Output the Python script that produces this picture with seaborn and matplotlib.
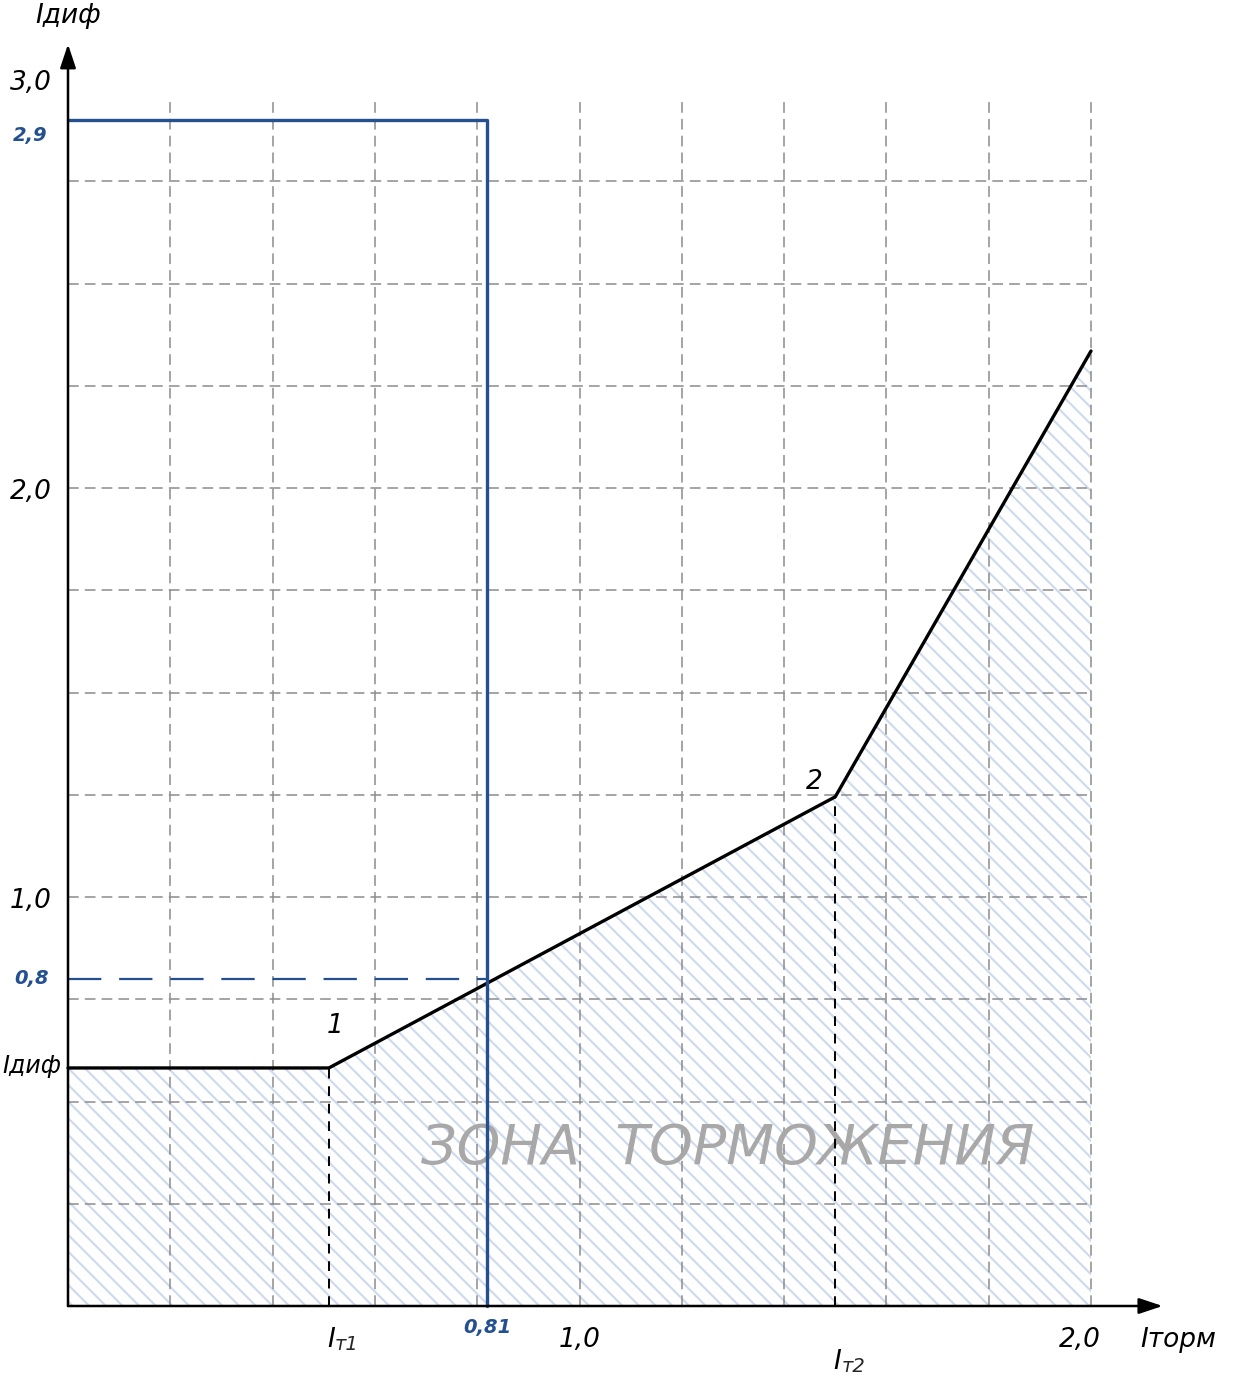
import matplotlib
matplotlib.use("Agg")
import matplotlib.pyplot as plt
import seaborn as sns
import numpy as np
import pandas as pd

# ---- data ----
char_x = [0.0, 0.51, 1.50, 2.00]
char_y = [0.582, 0.582, 1.245, 2.335]
break_labels = ["1", "2"]
set_x = 0.82          # blue vertical (labelled 0,81)
set_y = 2.9           # blue horizontal
cross_y = 0.8         # blue dashed level
x_grid = [0.2, 0.4, 0.6, 0.8, 1.0, 1.2, 1.4, 1.6, 1.8, 2.0]
y_grid = [0.25, 0.5, 0.75, 1.0, 1.25, 1.5, 1.75, 2.0, 2.25, 2.5, 2.75]
y_ticks = [3.0, 2.0, 1.0]
y_tick_labels = ["3,0", "2,0", "1,0"]
x_ticks = [1.0, 2.0]
x_tick_labels = ["1,0", "2,0"]

sns.set_theme(style="white")
FONT = ["DejaVu Sans"]
plt.rcParams["font.family"] = FONT
plt.rcParams["hatch.linewidth"] = 1.5

BLUE = "#24508f"
GRID = "#8c8c8c"

fig = plt.figure(figsize=(12.4, 13.83), dpi=100)
ax = fig.add_axes([0, 0, 1, 1])
# pixel mapping: x 0 -> 68px, 2 -> 1091px ; y 0 -> 1306px, 1 -> 897px
sx = 511.5
sy = 409.0
ax.set_xlim(-68 / sx, (1240 - 68) / sx)
ax.set_ylim(-(1383 - 1306) / sy, 1306 / sy)
ax.axis("off")

# hatched zone under characteristic
ax.fill_between(char_x, 0, char_y, facecolor="none", edgecolor="#cdd9ed",
                hatch="\\\\", linewidth=0, zorder=1)

# grid
for gx in x_grid:
    ax.plot([gx, gx], [0, 2.95], color=GRID, lw=1.1, ls=(0, (7, 4)), zorder=2)
for gy in y_grid:
    ax.plot([0, 2.0], [gy, gy], color=GRID, lw=1.1, ls=(0, (7, 4)), zorder=2)

# characteristic
df = pd.DataFrame({"x": char_x, "y": char_y})
sns.lineplot(data=df, x="x", y="y", color="black", lw=2.4, ax=ax,
             sort=False, zorder=5)
for bx, by in zip(char_x[1:3], char_y[1:3]):
    ax.plot([bx, bx], [0, by], color="black", lw=1.4, ls=(0, (5, 4)), zorder=4)

# blue setting lines
ax.plot([0, set_x, set_x], [set_y, set_y, 0], color=BLUE, lw=2.4, zorder=6)
ax.plot([0, set_x], [cross_y, cross_y], color=BLUE, lw=1.6,
        ls=(0, (15, 8)), zorder=6)

# axes with arrows
ax.annotate("", xy=(2.14, 0), xytext=(0, 0),
            arrowprops=dict(arrowstyle="-|>,head_length=1.2,head_width=0.4",
                            color="black", lw=1.8, shrinkA=0, shrinkB=0),
            zorder=7)
ax.annotate("", xy=(0, 3.085), xytext=(0, 0),
            arrowprops=dict(arrowstyle="-|>,head_length=1.2,head_width=0.4",
                            color="black", lw=1.8, shrinkA=0, shrinkB=0),
            zorder=7)

tk = dict(style="italic", fontsize=19, color="black")
# y tick labels
for v, lab in zip(y_ticks, y_tick_labels):
    ax.annotate(lab, xy=(0, v), xytext=(-37, -4), textcoords="offset pixels",
                ha="center", va="center", **tk)
ax.annotate("2,9", xy=(0, set_y), xytext=(-38, -16), textcoords="offset pixels",
            ha="center", va="center", style="italic", fontweight="bold",
            fontsize=14, color=BLUE)
ax.annotate("0,8", xy=(0, cross_y), xytext=(-36, 0), textcoords="offset pixels",
            ha="center", va="center", style="italic", fontweight="bold",
            fontsize=14, color=BLUE)
ax.annotate("Iдиф", xy=(0, char_y[0]), xytext=(-36, 2), textcoords="offset pixels",
            ha="center", va="center", style="italic", fontsize=17, color="black")
ax.annotate("Iдиф", xy=(0, 3.085), xytext=(0, 28), textcoords="offset pixels",
            ha="center", va="center", **tk)

# x tick labels
for v, lab in zip(x_ticks, x_tick_labels):
    ax.annotate(lab, xy=(v, 0), xytext=(-11 if v == 2.0 else 0, -34),
                textcoords="offset pixels", ha="center", va="center", **tk)
ax.annotate("0,81", xy=(set_x, 0), xytext=(0, -22), textcoords="offset pixels",
            ha="center", va="center", style="italic", fontweight="bold",
            fontsize=14, color=BLUE)
ax.annotate("Iторм", xy=(2.0, 0), xytext=(87, -34), textcoords="offset pixels",
            ha="center", va="center", **tk)
# Iт1, Iт2
for bx, off, sub in [(char_x[1], -34, "т1"), (char_x[2], -56, "т2")]:
    ax.annotate("I", xy=(bx, 0), xytext=(2, off), textcoords="offset pixels",
                ha="center", va="center", **tk)
    ax.annotate(sub, xy=(bx, 0), xytext=(6, off - 4), textcoords="offset pixels",
                ha="left", va="center", style="italic", fontsize=14)

# break point numbers
ax.annotate(break_labels[0], xy=(char_x[1], char_y[1]), xytext=(6, 42),
            textcoords="offset pixels", ha="center", va="center", **tk)
ax.annotate(break_labels[1], xy=(char_x[2], char_y[2]), xytext=(-21, 15),
            textcoords="offset pixels", ha="center", va="center", **tk)

# zone label
ax.text(1.29, 0.385, "ЗОНА  ТОРМОЖЕНИЯ", ha="center", va="center",
        style="italic", fontsize=40, color="#a8a8a8", zorder=3)

fig.savefig("out.png", dpi=100)
